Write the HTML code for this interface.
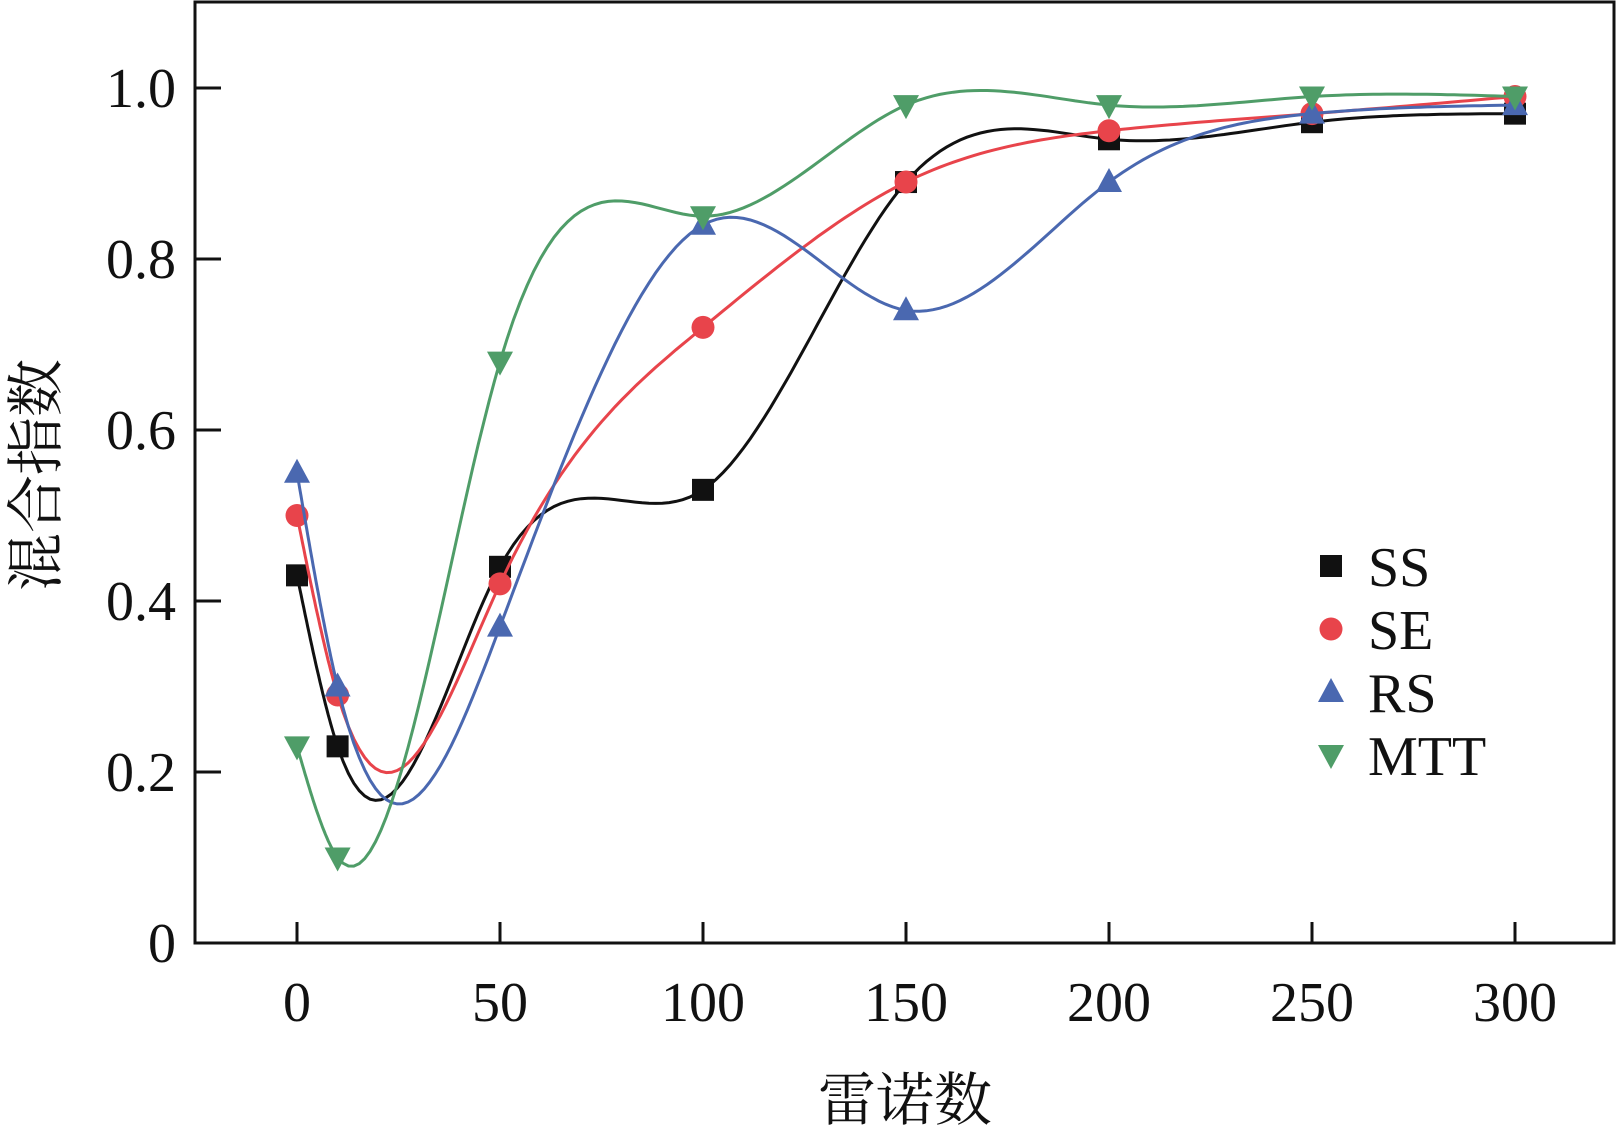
<!DOCTYPE html>
<html><head><meta charset="utf-8"><style>
html,body{margin:0;padding:0;background:#fff;}
svg text{font-family:"Liberation Serif","Noto Serif CJK SC",serif;fill:#111;}
</style></head><body>
<svg id="chart" width="1619" height="1125" viewBox="0 0 1619 1125" xmlns="http://www.w3.org/2000/svg">
<g id="axes"></g>
<g id="series"></g>
<g id="legend"></g>
<text x="905" y="1120" font-size="58" text-anchor="middle">雷诺数</text>
<text transform="translate(56,475) rotate(-90)" font-size="58" text-anchor="middle">混合指数</text>
</svg>
<script>
const xValues = [0, 10, 50, 100, 150, 200, 250, 300];
const ssValues = [0.43, 0.23, 0.44, 0.53, 0.89, 0.94, 0.96, 0.97];
const seValues = [0.50, 0.29, 0.42, 0.72, 0.89, 0.95, 0.97, 0.99];
const rsValues = [0.55, 0.30, 0.37, 0.84, 0.74, 0.89, 0.97, 0.98];
const mttValues = [0.23, 0.10, 0.68, 0.85, 0.98, 0.98, 0.99, 0.99];
const xTicks = [0, 50, 100, 150, 200, 250, 300];
const yTicks = [0, 0.2, 0.4, 0.6, 0.8, 1.0];
const yTickLabels = ["0", "0.2", "0.4", "0.6", "0.8", "1.0"];
const seriesNames = ["SS", "SE", "RS", "MTT"];

const NS = "http://www.w3.org/2000/svg";
const L = 195, R = 1614, T = 2, B = 943;
const xs = v => 297 + v * (1515 - 297) / 300;
const ys = v => 943 - v * 855;

function mk(tag, attrs, parent) {
  const e = document.createElementNS(NS, tag);
  for (const k in attrs) e.setAttribute(k, attrs[k]);
  parent.appendChild(e);
  return e;
}
const axes = document.getElementById('axes');
const frame = mk('rect', {x: L, y: T, width: R - L, height: B - T, fill: 'none', stroke: '#111', 'stroke-width': 3}, axes);


xTicks.forEach(v => {
  const t = mk('line', {x1: xs(v), x2: xs(v), y1: B, y2: B - 21, stroke: '#111', 'stroke-width': 3}, axes);
  
  
  const lb = mk('text', {x: xs(v), y: 1021, 'font-size': 56, 'text-anchor': 'middle'}, axes);
  lb.textContent = String(v);
  
  
});
yTicks.forEach((v, i) => {
  const t = mk('line', {x1: L, x2: L + 26, y1: ys(v), y2: ys(v), stroke: '#111', 'stroke-width': 3}, axes);
  
  
  const lb = mk('text', {x: 176, y: ys(v) + 19, 'font-size': 56, 'text-anchor': 'end'}, axes);
  lb.textContent = yTickLabels[i];
  
  
});

function spline(x, y) {
  const n = x.length, h = [], a = [], l = [1], mu = [0], z = [0], c = new Array(n).fill(0), b = [], d = [];
  for (let i = 0; i < n - 1; i++) h[i] = x[i + 1] - x[i];
  for (let i = 1; i < n - 1; i++) a[i] = 3 / h[i] * (y[i + 1] - y[i]) - 3 / h[i - 1] * (y[i] - y[i - 1]);
  for (let i = 1; i < n - 1; i++) {
    l[i] = 2 * (x[i + 1] - x[i - 1]) - h[i - 1] * mu[i - 1];
    mu[i] = h[i] / l[i];
    z[i] = (a[i] - h[i - 1] * z[i - 1]) / l[i];
  }
  for (let j = n - 2; j >= 0; j--) {
    c[j] = z[j] - mu[j] * c[j + 1];
    b[j] = (y[j + 1] - y[j]) / h[j] - h[j] * (c[j + 1] + 2 * c[j]) / 3;
    d[j] = (c[j + 1] - c[j]) / (3 * h[j]);
  }
  const pts = [];
  for (let i = 0; i < n - 1; i++) {
    for (let s = 0; s < 30; s++) {
      const dx = h[i] * s / 30;
      pts.push([x[i] + dx, y[i] + b[i] * dx + c[i] * dx * dx + d[i] * dx * dx * dx]);
    }
  }
  pts.push([x[n - 1], y[n - 1]]);
  return pts;
}

function marker(kind, cx, cy, color, parent) {
  let e;
  if (kind === 'square') e = mk('rect', {x: cx - 11, y: cy - 11, width: 22, height: 22, fill: color}, parent);
  else if (kind === 'circle') e = mk('circle', {cx: cx, cy: cy, r: 11.5, fill: color}, parent);
  else if (kind === 'up') e = mk('polygon', {points: `${cx},${cy - 14} ${cx - 13},${cy + 10} ${cx + 13},${cy + 10}`, fill: color}, parent);
  else e = mk('polygon', {points: `${cx},${cy + 14} ${cx - 13},${cy - 10} ${cx + 13},${cy - 10}`, fill: color}, parent);
  return e;
}

const seriesDefs = [
  {vals: ssValues, color: '#111111', kind: 'square'},
  {vals: seValues, color: '#e8444b', kind: 'circle'},
  {vals: rsValues, color: '#4a68b0', kind: 'up'},
  {vals: mttValues, color: '#4f9d68', kind: 'down'}
];
const sg = document.getElementById('series');
seriesDefs.forEach((s, si) => {
  const g = mk('g', {}, sg);
  
  
  const pts = spline(xValues, s.vals);
  const p = mk('path', {d: 'M' + pts.map(q => xs(q[0]).toFixed(1) + ',' + ys(q[1]).toFixed(1)).join('L'), fill: 'none', stroke: s.color, 'stroke-width': 3}, g);
  
  
  xValues.forEach((xv, i) => {
    const m = marker(s.kind, xs(xv), ys(s.vals[i]), s.color, g);
    
    
  });
});

const lg = document.getElementById('legend');
seriesDefs.forEach((s, i) => {
  const y = 566 + i * 63;
  const g = mk('g', {}, lg);
  
  
  marker(s.kind, 1331, y, s.color, g);
  const t = mk('text', {x: 1368, y: y + 20, 'font-size': 56}, g);
  t.textContent = seriesNames[i];
});
</script>
</body></html>
